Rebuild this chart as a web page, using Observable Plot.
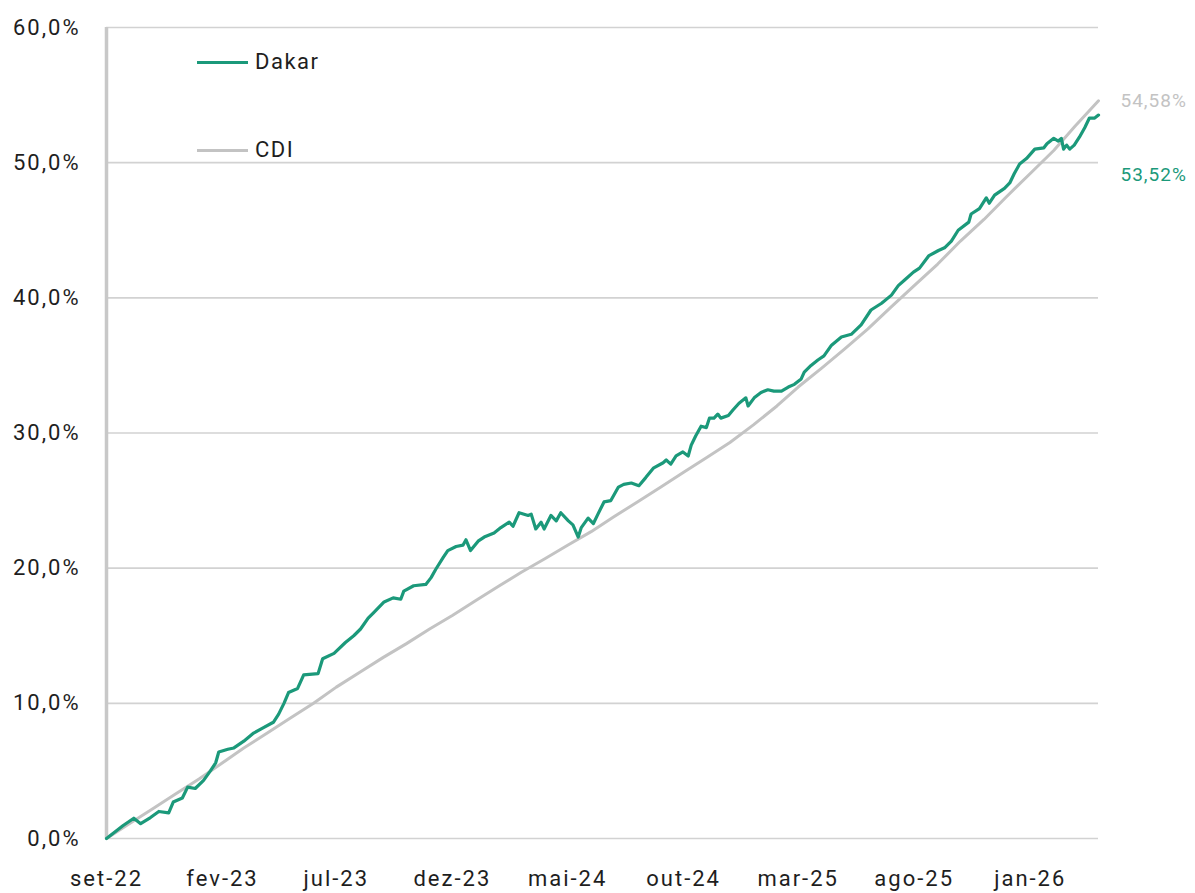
<!DOCTYPE html>
<html><head><meta charset="utf-8">
<script src="https://cdn.jsdelivr.net/npm/d3@7"></script>
<script src="https://cdn.jsdelivr.net/npm/@observablehq/plot@0.6"></script>
<style>
body{margin:0;background:#fff;font-family:Roboto,sans-serif}
#wrap{position:relative;width:1195px;height:893px}
#wrap svg g[aria-label="x-axis tick label"] text, #wrap svg g[aria-label="y-axis tick label"] text{letter-spacing:2px}
#wrap svg g[aria-label="text"] text{letter-spacing:1px}
.leg{position:absolute;display:flex;align-items:center;font-size:22px;color:#1e1e1e;line-height:1;letter-spacing:1.5px}
.sw{width:51px;height:3px;margin-right:7px}
</style></head><body><div id="wrap"></div>
<script>
// ---- data ----
const seriesNames = ["Dakar", "CDI"];
const seriesColors = ["#1b997a", "#c3c3c3"];

const tickDates = ["2022-09-01","2023-02-01","2023-07-01","2023-12-01","2024-05-01","2024-10-01","2025-03-01","2025-08-01","2026-01-01"];
const tickLabels = ["set-22","fev-23","jul-23","dez-23","mai-24","out-24","mar-25","ago-25","jan-26"];
const yTicks = [0,10,20,30,40,50,60];

const cdiDates = ["2022-09-01","2022-10-01","2022-11-01","2022-12-01","2023-01-01","2023-02-01","2023-03-01","2023-04-01","2023-05-01","2023-06-01","2023-07-01","2023-08-01","2023-09-01","2023-10-01","2023-11-01","2023-12-01","2024-01-01","2024-02-01","2024-03-01","2024-04-01","2024-05-01","2024-06-01","2024-07-01","2024-08-01","2024-09-01","2024-10-01","2024-11-01","2024-12-01","2025-01-01","2025-02-01","2025-03-01","2025-04-01","2025-05-01","2025-06-01","2025-07-01","2025-08-01","2025-09-01","2025-10-01","2025-11-01","2025-12-01","2026-01-01","2026-02-01","2026-03-01","2026-04-01"];
const cdiValues = [0,1.1,2.2,3.3,4.4,5.6,6.7,7.8,8.9,10.0,11.2,12.3,13.4,14.4,15.5,16.5,17.6,18.7,19.7,20.7,21.7,22.7,23.8,24.9,26.0,27.1,28.2,29.3,30.6,32.0,33.4,34.8,36.2,37.7,39.3,40.9,42.5,44.2,45.8,47.5,49.2,50.9,52.7,54.58];

const dakarDates = ["2022-09-01","2022-09-23","2022-10-07","2022-10-16","2022-10-29","2022-11-09","2022-11-22","2022-11-28","2022-12-10","2022-12-17","2022-12-27",
"2023-01-07","2023-01-16","2023-01-23","2023-01-27","2023-02-08","2023-02-16","2023-03-01","2023-03-14","2023-03-27","2023-04-09","2023-04-16","2023-04-23","2023-04-29",
"2023-05-11","2023-05-19","2023-06-07","2023-06-13","2023-06-28","2023-07-13","2023-07-24","2023-08-02","2023-08-12","2023-08-19","2023-09-02","2023-09-14","2023-09-24","2023-09-28",
"2023-10-11","2023-10-27","2023-11-03","2023-11-09","2023-11-19","2023-11-25","2023-12-06","2023-12-15","2023-12-19","2023-12-25",
"2024-01-04","2024-01-12","2024-01-25","2024-02-03","2024-02-14","2024-02-19","2024-02-27","2024-03-10","2024-03-14","2024-03-20","2024-03-27","2024-03-31",
"2024-04-09","2024-04-16","2024-04-22","2024-05-02","2024-05-08","2024-05-15","2024-05-19","2024-05-28","2024-06-04","2024-06-10","2024-06-18","2024-06-27",
"2024-07-07","2024-07-14","2024-07-24","2024-08-03","2024-08-12","2024-08-22","2024-09-04","2024-09-08","2024-09-14","2024-09-21","2024-09-30",
"2024-10-07","2024-10-11","2024-10-17","2024-10-24","2024-10-31","2024-11-04","2024-11-10","2024-11-15","2024-11-19","2024-11-29",
"2024-12-05","2024-12-13","2024-12-22","2024-12-25","2025-01-02","2025-01-11","2025-01-20","2025-01-28","2025-02-07","2025-02-16","2025-02-24",
"2025-03-05","2025-03-09","2025-03-18","2025-03-27","2025-04-04","2025-04-14","2025-04-27","2025-05-10","2025-05-23","2025-06-05","2025-06-19",
"2025-07-02","2025-07-11","2025-07-19","2025-07-31","2025-08-08","2025-08-20","2025-09-02","2025-09-10","2025-09-19","2025-09-28",
"2025-10-12","2025-10-15","2025-10-26","2025-11-04","2025-11-08","2025-11-15","2025-11-28","2025-12-05","2025-12-11","2025-12-18","2025-12-27",
"2026-01-07","2026-01-19","2026-01-23","2026-02-01","2026-02-07","2026-02-11","2026-02-14","2026-02-18","2026-02-22","2026-02-28",
"2026-03-07","2026-03-14","2026-03-20","2026-03-27","2026-04-01"];
const dakarValues = [0,0.96,1.5,1.1,1.55,2.0,1.9,2.7,3.0,3.8,3.7,
4.3,5.0,5.6,6.4,6.6,6.7,7.2,7.8,8.2,8.6,9.2,10.0,10.8,
11.1,12.1,12.2,13.3,13.7,14.5,15.0,15.5,16.3,16.7,17.5,17.8,17.7,18.3,
18.7,18.8,19.3,19.9,20.8,21.3,21.6,21.7,22.1,21.3,
22.0,22.3,22.6,23.0,23.4,23.1,24.1,23.9,24.0,22.9,23.4,22.9,
23.9,23.5,24.1,23.5,23.2,22.3,23.0,23.7,23.3,24.0,24.9,25.0,
26.0,26.2,26.3,26.1,26.7,27.4,27.8,28.0,27.7,28.3,28.6,
28.3,29.1,29.8,30.5,30.4,31.1,31.1,31.4,31.1,31.3,
31.7,32.2,32.6,32.0,32.6,33.0,33.2,33.1,33.1,33.4,33.6,
34.0,34.5,35.0,35.4,35.7,36.5,37.1,37.3,38.0,39.1,39.6,
40.2,40.9,41.3,41.9,42.2,43.1,43.5,43.7,44.2,45.0,
45.6,46.2,46.6,47.4,47.0,47.6,48.1,48.5,49.2,49.9,50.3,
51.0,51.1,51.4,51.8,51.6,51.8,51.0,51.3,51.0,51.3,
51.9,52.6,53.3,53.3,53.52];

// ---- build ----
const parse = s => new Date(s);
const cdi = cdiDates.map((d, i) => ({date: parse(d), value: cdiValues[i]}));
const dakar = dakarDates.map((d, i) => ({date: parse(d), value: dakarValues[i]}));
const cdiEnd = [cdi[cdi.length-1]];
const dakarEnd = [dakar[dakar.length-1]];
const fmt = v => v.toFixed(1).replace(".", ",") + "%";
const fmt2 = v => v.toFixed(2).replace(".", ",") + "%";
const tickDateObjs = tickDates.map(parse);

const chart = Plot.plot({
  width: 1195, height: 893,
  marginLeft: 106, marginRight: 97, marginTop: 27, marginBottom: 55,
  style: {fontFamily: "Roboto, sans-serif", fontSize: "22px", color: "#1e1e1e", background: "#fff"},
  x: {type: "utc", domain: [parse(cdiDates[0]), parse(cdiDates[cdiDates.length-1])]},
  y: {domain: [0, 60]},
  marks: [
    Plot.gridY(yTicks, {stroke: "#d2d2d2", strokeOpacity: 1, strokeWidth: 1.6}),
    Plot.ruleX([parse(cdiDates[0])], {stroke: "#c8c8c8", strokeWidth: 3.5}),
    Plot.axisY(yTicks, {tickSize: 0, tickPadding: 26, tickFormat: fmt, fontSize: 22, fill: "#1e1e1e", label: null}),
    Plot.axisX(tickDateObjs, {tickSize: 0, tickPadding: 32, fontSize: 22, fill: "#1e1e1e", label: null,
      tickFormat: d => tickLabels[tickDateObjs.findIndex(t => +t === +d)]}),
    Plot.lineY(cdi, {x: "date", y: "value", stroke: seriesColors[1], strokeWidth: 3}),
    Plot.lineY(dakar, {x: "date", y: "value", stroke: seriesColors[0], strokeWidth: 3.2}),
    Plot.text(cdiEnd, {x: "date", y: "value", text: d => fmt2(d.value), fill: seriesColors[1], dx: 22,
      textAnchor: "start", fontSize: 19}),
    Plot.text(dakarEnd, {x: "date", y: "value", text: d => fmt2(d.value), fill: seriesColors[0], dx: 22, dy: 60,
      textAnchor: "start", fontSize: 19})
  ]
});
const wrap = document.getElementById("wrap");
wrap.appendChild(chart);

// legend (inside plot area, top-left)
const legendTops = [51, 139];
seriesNames.forEach((name, i) => {
  const el = document.createElement("div");
  el.className = "leg";
  el.style.left = "197px";
  el.style.top = legendTops[i] + "px";
  el.innerHTML = `<span class="sw" style="background:${seriesColors[i]}"></span><span>${name}</span>`;
  wrap.appendChild(el);
});
</script></body></html>
